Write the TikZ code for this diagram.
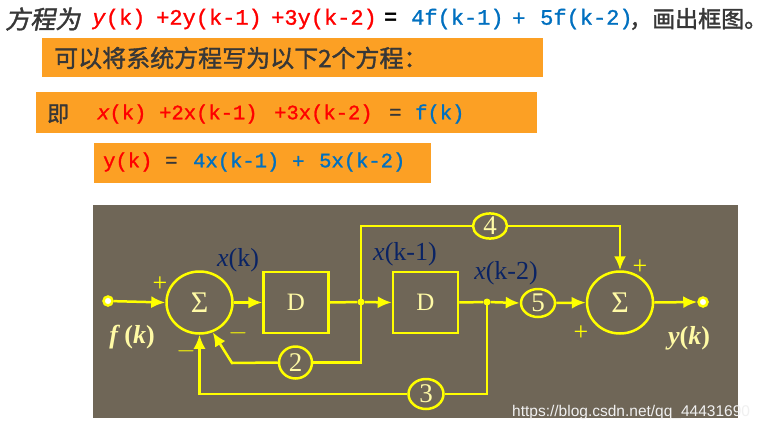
\documentclass[tikz,border=0pt]{standalone}
\usepackage{fontspec}
\setmainfont{Liberation Serif}
\newfontfamily\cjk[FakeBold=1.5]{Noto Sans CJK SC}
\newfontfamily\cjkit[FakeSlant=0.2,FakeBold=1.5]{Noto Sans CJK SC}
\newfontfamily\mono[FakeBold=1.2]{Liberation Mono}
\newfontfamily\monob{Liberation Mono Bold}
\newfontfamily\wmfont{Liberation Sans}
\usetikzlibrary{arrows.meta,shapes.geometric}
\definecolor{orng}{RGB}{252,160,36}
\definecolor{dk}{RGB}{55,55,55}
\definecolor{rd}{RGB}{255,0,0}
\definecolor{bl}{RGB}{0,112,192}
\definecolor{bgc}{RGB}{111,102,87}
\definecolor{yl}{RGB}{255,255,0}
\definecolor{pyl}{RGB}{255,250,165}
\definecolor{nv}{RGB}{10,35,100}
\newcommand{\fsz}[1]{\fontsize{#1}{#1}\selectfont}
\begin{document}
\begin{tikzpicture}[x=1pt,y=-1pt,
  txt/.style={inner sep=0pt,anchor=west},
  ttl/.style={txt,font=\mono\fsz{22}},
  rowt/.style={txt,font=\mono\fsz{20.5}},
  wire/.style={draw=yl,line width=2.5pt},
  arr/.style={wire,-{Latex[length=14pt,width=12pt]}},
  sumnode/.style={ellipse,draw=yl,line width=2.5pt,minimum width=66pt,minimum height=62pt,inner sep=0pt,text=pyl,font=\fsz{30}},
  dbox/.style={rectangle,draw=yl,line width=2.5pt,minimum width=65pt,minimum height=61pt,inner sep=0pt,text=pyl,font=\fsz{25}},
  gain/.style={ellipse,draw=yl,line width=2.5pt,inner sep=0pt,text=pyl,font=\fsz{27}},
  term/.style={circle,draw=yl,fill=white,line width=2.5pt,minimum size=9pt,inner sep=0pt},
  jdot/.style={circle,fill=yl,minimum size=7pt,inner sep=0pt},
  sgn/.style={inner sep=0pt,text=yl,font=\fsz{26}},
  sig/.style={inner sep=0pt,text=nv,font=\fsz{26}},
  io/.style={inner sep=0pt,text=pyl,font=\bfseries\fsz{26}}
]
\useasboundingbox (0,0) rectangle (767,431);
\fill[white] (0,0) rectangle (767,431);
% title
\node[txt,text=dk,font=\cjkit\fsz{25}] (t0) at (5,19) {方程为};
\node[ttl,text=rd] (t1) at (92,19) {\textit{y}(k)};
\node[ttl,text=rd] (t2) at (156,19) {+2y(k-1)};
\node[ttl,text=rd] (t3) at (271,19) {+3y(k-2)};
\node[txt,text=black,font=\monob\fsz{22}] (t4) at (384,19) {=};
\node[ttl,text=bl] (t5) at (411,19) {4f(k-1)};
\node[ttl,text=bl] (t6) at (512,19) {+};
\node[ttl,text=bl] (t7) at (540,19) {5f(k-2)};
\node[txt,text=dk,font=\cjk\fsz{23}] (t8) at (629,19) {，画出框图。};
% box 1
\fill[orng] (42,38) rectangle (543,77);
\node[txt,text=dk,font=\cjk\fsz{24}] (b1) at (54,58) {可以将系统方程写为以下2个方程：};
% box 2
\fill[orng] (36,92) rectangle (537,133);
\node[txt,text=dk,font=\cjk\fsz{22}] (r0) at (47,114) {即};
\node[rowt,text=rd] (r1) at (97,114) {\textit{x}(k)};
\node[rowt,text=rd] (r2) at (159,114) {+2x(k-1)};
\node[rowt,text=rd] (r3) at (274,114) {+3x(k-2)};
\node[rowt,text=dk] (r4) at (389,114) {=};
\node[rowt,text=bl] (r5) at (415,114) {f(k)};
% box 3
\fill[orng] (94,143) rectangle (431,183);
\node[rowt,text=rd] (s1) at (103,162) {y(k)};
\node[rowt,text=dk] (s2) at (165,162) {=};
\node[rowt,text=bl] (s3) at (193,162) {4x(k-1)};
\node[rowt,text=bl] (s4) at (292,162) {+};
\node[rowt,text=bl] (s5) at (319,162) {5x(k-2)};
% diagram background
\fill[bgc] (93,205) rectangle (738,418);
% nodes
\node[term] (in) at (108,301) {};
\node[sumnode] (sum1) at (199.5,302.5) {Σ};
\node[dbox] (d1) at (296,302.5) {D};
\node[jdot] (j1) at (361,302) {};
\node[dbox] (d2) at (425.5,302.5) {D};
\node[jdot] (j2) at (487,302) {};
\node[gain,minimum width=34pt,minimum height=28pt] (c5) at (538,303) {5};
\node[sumnode] (sum2) at (620,302.5) {Σ};
\node[term] (out) at (703,302) {};
\node[gain,minimum width=34pt,minimum height=25pt] (c4) at (490,226) {4};
\node[gain,minimum width=33pt,minimum height=32pt] (c2) at (295.5,362.5) {2};
\node[gain,minimum width=35pt,minimum height=30pt] (c3) at (426,394) {3};
\coordinate (k2) at (232,363);
% connectors
\draw[arr] (in) -- (sum1.west);
\draw[arr] (sum1.east) -- (d1.west);
\draw[wire] (d1.east) -- (j1);
\draw[arr] (j1) -- (d2.west);
\draw[wire] (d2.east) -- (j2);
\draw[arr] (j2) -- (c5.west);
\draw[arr] (c5.east) -- (sum2.west);
\draw[arr] (sum2.east) -- (out.west);
\draw[wire] (j1.center) |- (c4.west);
\draw[arr] (c4.east) -| (sum2.north);
\draw[wire] (j1.center) |- (c2.east);
\draw[arr] (c2.west) -- (k2) -- (sum1.-66);
\draw[wire] (j2.center) |- (c3.east);
\draw[arr] (c3.west) -| (sum1.south);
% signs and labels
\node[sgn] (p1) at (160,284) {+};
\node[sgn] (m1) at (238,333) {$-$};
\node[sgn] (m2) at (186,351) {$-$};
\node[sgn] (p2) at (640,267) {+};
\node[sgn] (p3) at (581,333) {+};
\node[sig] (xk) at (238,260) {\textit{x}(k)};
\node[sig] (xk1) at (405,254) {\textit{x}(k-1)};
\node[sig] (xk2) at (506,273) {\textit{x}(k-2)};
\node[io] (fk) at (132,337) {\textit{f}\,(\textit{k})};
\node[io] (yk) at (689,338) {\textit{y}(\textit{k})};
% watermark
\node[txt,text=white!88!gray,font=\wmfont\fsz{15.5}] (wm) at (512,412) {https://blog.csdn.net/qq\_44431690};
\end{tikzpicture}
\end{document}
